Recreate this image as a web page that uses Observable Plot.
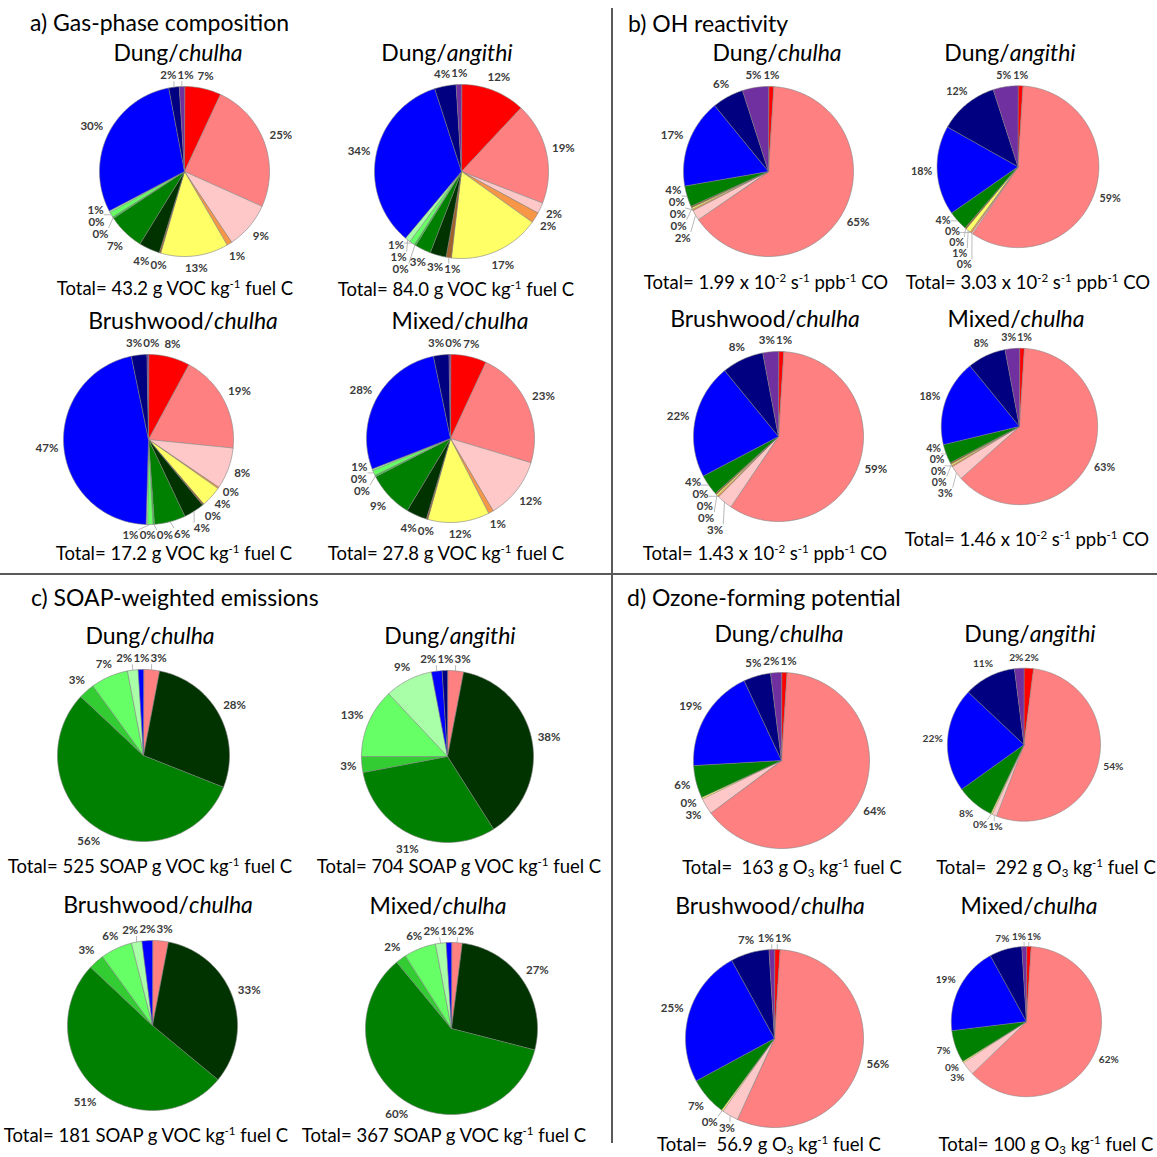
<!DOCTYPE html>
<html><head><meta charset="utf-8">
<script src="https://cdn.jsdelivr.net/npm/d3@7"></script>
<script src="https://cdn.jsdelivr.net/npm/@observablehq/plot@0.6"></script>
<style>
body{margin:0;background:#fff;}
#page{position:relative;width:1157px;height:1157px;overflow:hidden;font-family:Lato,"Open Sans",sans-serif;color:#000;}
.abs{position:absolute;white-space:pre;}
.ptitle{font-size:23px;transform:translate(0,-50%);}
.ctitle{font-size:23px;transform:translate(-50%,-50%);}
.total{font-size:18.5px;line-height:1.1;transform:translate(-50%,-50%);}
.total sup{font-size:62%;vertical-align:0.6em;line-height:0;}
.total sub{font-size:62%;vertical-align:-0.25em;line-height:0;}
.vline{position:absolute;left:611px;top:8px;width:2px;height:1135px;background:#595959;}
.hline{position:absolute;left:0;top:573px;width:1157px;height:2px;background:#595959;}
.pie{position:absolute;}
</style></head><body><div id="page"></div>
<script>
// ---------- DATA ----------
const categories = ["Class 1","Class 2","Class 3","Class 4","Class 5","Class 6","Class 7",
  "Class 8","Class 9","Class 10","Class 11","Class 12","Class 13","Class 14"];
const pieNames = ["Dung/chulha","Dung/angithi","Brushwood/chulha","Mixed/chulha"];
const panelTitles = ["a) Gas-phase composition","b) OH reactivity","c) SOAP-weighted emissions","d) Ozone-forming potential"];
// percent shares, clockwise from 12 o'clock, one entry per category (null = not shown)
const gasPhase = [
  [7,25,9,1,13,0.3,4,7,0.3,1,0.3,30,2,1],
  [12,19,2,2,17,1,3,3,0.3,1,1,34,4,1],
  [8,19,8,0.3,4,0.3,4,6,0.3,1,0.3,47,3,0.3],
  [7,23,12,1,12,0.3,4,9,0.3,1,0.3,28,3,0.3]
];
const ohReactivity = [
  [1,65,2,0.3,0.3,0.3,null,4,null,null,null,17,6,5],
  [1,59,0.3,0.3,1,0.3,null,4,null,null,null,18,12,5],
  [1,59,3,0.3,0.3,0.3,null,4,null,null,null,22,8,3],
  [1,63,3,0.3,0.3,0.3,null,4,null,null,null,18,8,3]
];
const soapWeighted = [
  [null,3,null,null,null,null,28,56,3,7,2,1,null,null],
  [null,3,null,null,null,null,38,31,3,13,9,2,1,null],
  [null,3,null,null,null,null,33,51,3,6,2,2,null,null],
  [null,2,null,null,null,null,27,60,2,6,2,1,null,null]
];
const ozonePotential = [
  [1,64,3,null,0.3,null,null,6,null,null,null,19,5,2],
  [2,54,1,null,0.3,null,null,8,null,null,null,22,11,2],
  [1,56,3,null,0.3,null,null,7,null,null,null,25,7,1],
  [1,62,3,null,0.3,null,null,7,null,null,null,19,7,1]
];
const gasTotals = ["43.2","84.0","17.2","27.8"];
const ohTotals = ["1.99","3.03","1.43","1.46"];
const soapTotals = ["525","704","181","367"];
const ozoneTotals = [" 163"," 292"," 56.9","100"];

// ---------- STYLE / LAYOUT ----------
const colors = ["#FF0000","#FF8080","#FFC8C8","#F79646","#FFFF66","#A0632D","#003300",
  "#008000","#33CC33","#66FF66","#A8FFA8","#0000FF","#000080","#7030A0"];
const panelLayout = [
 {title:[30,22], pies:[
   {c:[184,171],r:85,t:[178,52],s:[175,288]},
   {c:[461,171],r:87,t:[447,52],s:[456,289]},
   {c:[148,439],r:85,t:[183,320],s:[174,553]},
   {c:[450,438],r:84,t:[460,320],s:[446,553]}]},
 {title:[628,23], pies:[
   {c:[768,171],r:85,t:[777,52],s:[766,282]},
   {c:[1028,175],r:87,t:[1010,52],s:[1028,282]},
   {c:[778,436],r:85,t:[765,318],s:[765,553]},
   {c:[1031,436],r:85,t:[1016,318],s:[1027,539]}]},
 {title:[31,597], pies:[
   {c:[143,755],r:86,t:[150,635],s:[150,866]},
   {c:[447,756],r:86,t:[450,635],s:[459,866]},
   {c:[152,1025],r:85,t:[158,904],s:[146,1135]},
   {c:[451,1028],r:86,t:[438,905],s:[444,1135]}]},
 {title:[627,597], pies:[
   {c:[781,760],r:88,t:[779,633],s:[792,867]},
   {c:[1040,758],r:86,t:[1030,633],s:[1046,867]},
   {c:[774,1038],r:89,t:[770,905],s:[769,1144]},
   {c:[1045,1037],r:86,t:[1029,905],s:[1046,1144]}]}
];
const panelValues = [gasPhase, ohReactivity, soapWeighted, ozonePotential];
const totalText = [
  v => `Total= ${v} g VOC kg<sup>-1</sup> fuel C`,
  v => `Total= ${v} x 10<sup>-2</sup> s<sup>-1</sup> ppb<sup>-1</sup> CO`,
  v => `Total= ${v} SOAP g VOC kg<sup>-1</sup> fuel C`,
  v => `Total= ${v} g O<sub>3</sub> kg<sup>-1</sup> fuel C`
];
const panelTotals = [gasTotals, ohTotals, soapTotals, ozoneTotals];

// ---------- LABEL PLACEMENT ----------
const LABEL_SIZE = 11.5;
function placeLabels(slices, r){
  const gap = 5, h = 12;
  const L = slices.map((s, idx) => {
    const ux = Math.sin(s.mid), uy = -Math.cos(s.mid);
    const nd = s.label.length - 1;
    const w = (0.58*nd + 0.83) * LABEL_SIZE;
    const d = r + gap + (w/2)*Math.abs(ux) + (h/2)*Math.abs(uy);
    return {...s, idx, ux, uy, w, h, x0:d*ux, y0:d*uy, x:d*ux, y:d*uy};
  });
  for (let it=0; it<600; it++){
    let moved = false;
    for (let i=0;i<L.length;i++) for (let j=i+1;j<L.length;j++){
      const a=L[i], b=L[j];
      const dx=b.x-a.x, dy=b.y-a.y;
      const ox=(a.w+b.w)/2+1-Math.abs(dx), oy=(a.h+b.h)/2-Math.abs(dy);
      if (ox>0 && oy>0){
        moved = true;
        const m = (a.mid+b.mid)/2;
        const side = Math.abs(Math.sin(m)) > 0.55;
        if (side){
          let sg = dy!==0 ? Math.sign(dy) : (Math.sin(m)>0 ? 1 : -1);
          const s = sg*oy/2; a.y-=s; b.y+=s;
        } else {
          let sg = dx!==0 ? Math.sign(dx) : (Math.cos(m)>0 ? 1 : -1);
          const s = sg*ox/2; a.x-=s; b.x+=s;
        }
      }
    }
    for (const l of L){
      const nx = Math.max(l.x-l.w/2, Math.min(0, l.x+l.w/2));
      const ny = Math.max(l.y-l.h/2, Math.min(0, l.y+l.h/2));
      const dn = Math.hypot(nx,ny);
      if (dn < r+2){
        const dd = Math.hypot(l.x,l.y)||1;
        const push = r+2-dn;
        l.x += l.x/dd*push; l.y += l.y/dd*push;
      }
    }
    if (!moved) break;
  }
  return L;
}

// ---------- PIE ----------
function pieSVG(values, r){
  const W=300, H=250;
  const items = values.map((v,i)=>({v,i})).filter(d=>d.v!=null);
  const sum = d3.sum(items, d=>d.v);
  let cum = 0;
  const poly = [], slices = [];
  items.forEach(d=>{
    const a0 = cum/sum*2*Math.PI; cum += d.v; const a1 = cum/sum*2*Math.PI;
    const key = categories[d.i], color = colors[d.i];
    const n = Math.max(2, Math.ceil((a1-a0)/(Math.PI/180)));
    poly.push({key,color,x:0,y:0});
    for (let k=0;k<=n;k++){ const a=a0+(a1-a0)*k/n; poly.push({key,color,x:r*Math.sin(a),y:-r*Math.cos(a)}); }
    slices.push({key, mid:(a0+a1)/2, label: Math.round(d.v)+"%"});
  });
  const labels = placeLabels(slices, r);
  const leaders = labels.filter(l=>Math.hypot(l.x-l.x0,l.y-l.y0)>4).map(l=>{
    const ax=r*l.ux, ay=r*l.uy;
    const bx=Math.max(l.x-l.w/2,Math.min(ax,l.x+l.w/2));
    const by=Math.max(l.y-l.h/2,Math.min(ay,l.y+l.h/2));
    return {x1:ax,y1:ay,x2:bx,y2:by};
  });
  return Plot.plot({
    width:W, height:H, margin:0,
    x:{domain:[-W/2,W/2], range:[0,W], axis:null},
    y:{domain:[-H/2,H/2], range:[0,H], axis:null},
    color:{type:"identity"},
    style:{background:"transparent", overflow:"visible", fontFamily:"Lato, sans-serif"},
    marks:[
      Plot.line(poly,{x:"x",y:"y",z:"key",fill:"color",stroke:"#808080",strokeWidth:0.6,curve:"linear-closed"}),
      Plot.link(leaders,{x1:"x1",y1:"y1",x2:"x2",y2:"y2",stroke:"#a6a6a6",strokeWidth:0.8}),
      Plot.text(labels,{x:"x",y:"y",text:"label",fontSize:LABEL_SIZE,fontWeight:"bold",fill:"#3a3a3a"})
    ]
  });
}

// ---------- BUILD PAGE ----------
const page = document.getElementById("page");
function addDiv(cls, x, y, html){
  const d = document.createElement("div");
  d.className = "abs " + cls; d.style.left = x+"px"; d.style.top = y+"px"; d.innerHTML = html;
  page.appendChild(d); return d;
}
panelLayout.forEach((P, p)=>{
  P.pies.forEach((L, k)=>{
    const svg = pieSVG(panelValues[p][k], L.r);
    const wrap = document.createElement("div");
    wrap.className = "pie";
    wrap.style.left = (L.c[0]-150)+"px"; wrap.style.top = (L.c[1]-125)+"px";
    wrap.appendChild(svg); page.appendChild(wrap);
  });
});
panelLayout.forEach((P, p)=>{
  addDiv("ptitle", P.title[0], P.title[1], panelTitles[p]);
  P.pies.forEach((L, k)=>{
    const [fuel, stove] = pieNames[k].split("/");
    addDiv("ctitle", L.t[0], L.t[1], `${fuel}/<i>${stove}</i>`);
    addDiv("total", L.s[0], L.s[1], totalText[p](panelTotals[p][k]));
  });
});
const v = document.createElement("div"); v.className="vline"; page.appendChild(v);
const hl = document.createElement("div"); hl.className="hline"; page.appendChild(hl);
</script></body></html>
